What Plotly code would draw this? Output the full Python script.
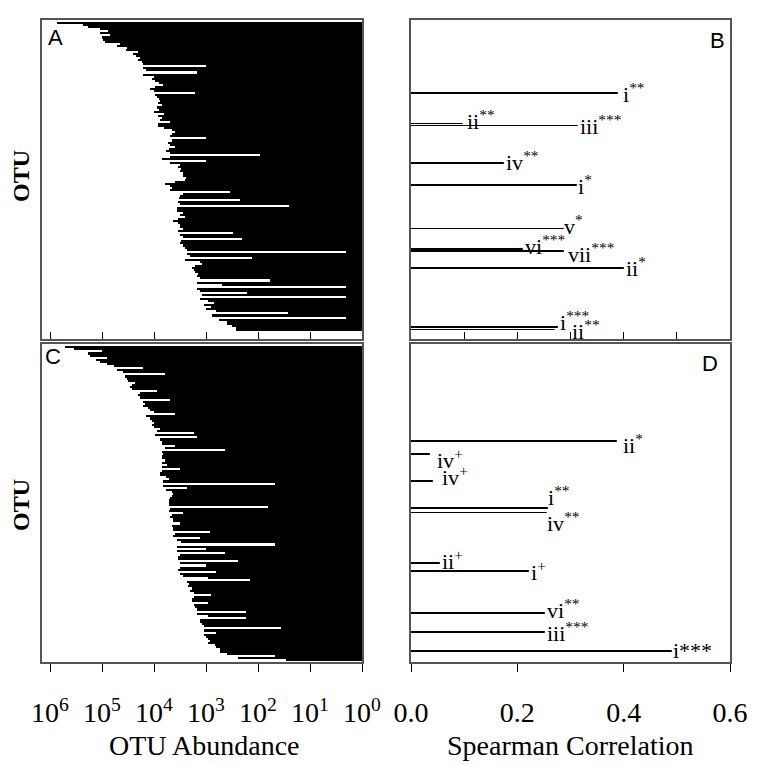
import plotly.graph_objects as go

# page body has an 8px margin, so the figure is laid out 8px smaller
OFF = 8
W, H = 763 - OFF, 765 - OFF

# OTU abundances (panel A), ordered top to bottom
abund_a = [
    7.4e5, 2.3e5, 1.9e5, 1.1e5, 7.6e4, 1.1e5, 7.1e4, 1.0e5, 9.5e4, 8.9e4,
    4.5e4, 5.2e4, 3.3e4, 3.5e4, 2.0e4, 2.5e4, 2.2e4, 1.9e4, 2.0e4, 1.7e4,
    1.6e4, 9.8e2, 1.6e4, 1.4e4, 1.5e3, 1.6e4, 1.0e4, 1.1e4, 9.5e3, 7.9e3,
    6.8e3, 9.5e3, 1.2e4, 1.0e4, 1.6e3, 9.5e3, 8.9e3, 7.9e3, 7.6e3, 8.3e3,
    7.1e3, 8.9e3, 7.9e3, 1.0e4, 6.3e3, 8.3e3, 7.1e3, 7.6e3, 5.0e3, 8.3e3,
    8.3e3, 6.3e3, 4.5e3, 4.0e3, 4.5e3, 4.9e3, 9.8e2, 4.6e3, 5.4e3, 5.0e3,
    4.0e3, 5.2e3, 5.8e3, 5.0e3, 9.1e1, 4.9e3, 7.1e3, 9.8e2, 4.9e3, 3.2e3,
    3.5e3, 3.0e3, 3.2e3, 2.8e3, 2.8e3, 2.4e3, 2.5e3, 4.0e3, 6.2e3, 5.0e3,
    4.6e3, 4.9e3, 3.5e2, 2.8e3, 3.2e3, 3.3e3, 2.2e2, 3.4e3, 3.2e3, 2.4e1,
    3.6e3, 3.6e3, 2.8e3, 3.2e3, 2.5e3, 3.5e3, 4.3e3, 3.5e3, 3.2e3, 3.2e3,
    2.8e3, 3.4e3, 3.0e2, 3.2e3, 2.8e3, 2.0e2, 3.0e3, 3.2e3, 2.8e3, 2.5e3,
    2.3e3, 1.0e0, 2.3e3, 2.0e3, 1.3e2, 2.5e3, 1.3e3, 1.2e3, 1.6e3, 1.9e3,
    1.7e3, 1.6e3, 1.4e3, 1.5e3, 1.3e3, 5.9e1, 1.5e3, 5.0e2, 1.0e0, 1.5e3,
    1.3e3, 1.6e2, 1.2e3, 1.0e0, 1.3e3, 9.1e2, 7.1e2, 1.1e3, 7.9e2, 1.0e3,
    6.3e2, 2.5e1, 7.8e2, 1.0e0, 5.6e2, 4.0e2, 4.0e2, 3.2e2, 2.6e2, 2.6e2,
]

# OTU abundances (panel C), ordered top to bottom
abund_c = [
    5.1e5, 3.5e5, 1.0e5, 1.9e5, 1.7e5, 8.1e4, 1.3e5, 1.1e5, 8.1e4, 6.0e4,
    1.6e4, 5.2e4, 4.0e4, 6.2e3, 3.6e4, 3.3e4, 3.1e4, 2.3e4, 2.7e4, 2.9e4,
    2.7e4, 8.9e3, 1.9e4, 2.0e4, 1.9e4, 4.9e3, 1.6e4, 1.5e4, 1.6e4, 1.3e4,
    1.2e4, 1.0e4, 4.0e3, 1.4e4, 1.2e4, 1.1e4, 1.0e4, 1.1e4, 1.0e4, 7.6e3,
    8.9e3, 1.7e3, 9.5e3, 1.5e3, 7.6e3, 7.1e3, 7.1e3, 4.0e3, 6.2e3, 4.3e2,
    7.1e3, 6.6e3, 7.1e3, 7.1e3, 6.2e3, 7.1e3, 5.6e3, 7.1e3, 3.2e3, 7.1e3,
    7.6e3, 7.6e3, 5.8e3, 5.2e3, 6.6e3, 4.7e1, 6.6e3, 2.3e3, 5.8e3, 4.6e3,
    4.3e3, 4.6e3, 5.0e3, 5.2e3, 5.2e3, 5.2e3, 6.3e1, 4.9e3, 5.2e3, 2.8e3,
    4.6e3, 4.9e3, 4.3e3, 4.3e3, 3.2e3, 4.6e3, 4.3e3, 4.3e3, 8.3e2, 4.0e3,
    4.3e3, 1.3e3, 3.6e3, 3.0e3, 4.7e1, 3.6e3, 1.0e3, 3.6e3, 4.3e2, 3.2e3,
    3.4e3, 3.4e3, 2.4e2, 3.2e3, 1.0e3, 3.2e3, 3.4e3, 6.3e2, 3.2e3, 2.8e3,
    9.1e2, 1.4e2, 2.3e3, 2.1e3, 2.2e3, 1.9e3, 2.0e3, 1.7e3, 7.9e2, 1.7e3,
    1.9e3, 1.9e3, 9.1e2, 1.7e3, 1.6e3, 1.5e3, 1.7e2, 1.5e3, 9.1e2, 1.7e2,
    1.3e3, 1.3e3, 1.2e3, 1.1e3, 3.5e1, 1.1e3, 6.3e2, 1.1e3, 1.0e3, 9.1e2,
    8.5e2, 9.1e2, 6.8e2, 6.3e2, 5.4e2, 5.4e2, 4.0e2, 4.7e1, 2.4e2, 2.8e1,
]

# Spearman correlations (panel B): OTU row, rho, group, significance
b_otu = [34, 49, 50, 68, 79, 100, 110, 111, 119, 148, 149]
b_rho = [0.39, 0.098, 0.315, 0.174, 0.312, 0.287, 0.211, 0.287, 0.40, 0.277, 0.271]
b_group = ["i", "ii", "iii", "iv", "i", "v", "vi", "vii", "ii", "i", "ii"]
b_sig = ["**", "**", "***", "**", "*", "*", "***", "***", "*", "***", "**"]

# Spearman correlations (panel D)
d_otu = [45, 51, 64, 77, 79, 103, 107, 127, 136, 145]
d_rho = [0.387, 0.036, 0.042, 0.258, 0.255, 0.055, 0.221, 0.252, 0.252, 0.49]
d_group = ["ii", "iv", "iv", "i", "iv", "ii", "i", "vi", "iii", "i"]
d_sig = ["*", "+", "+", "**", "**", "+", "+", "**", "***", "***"]

abund_ticks = [1e6, 1e5, 1e4, 1e3, 1e2, 1e1, 1e0]
abund_ticktext = ["10<sup>6</sup>", "10<sup>5</sup>", "10<sup>4</sup>", "10<sup>3</sup>",
                  "10<sup>2</sup>", "10<sup>1</sup>", "10<sup>0</sup>"]

# label offsets (px): dx, dy(up)
b_shift = [(4, 0), (3, 4), (1, 1), (1, 2), (0, 1), (-1, 4), (1, 5), (3, -1), (1, 1), (1, 7), (16, 0)]
d_shift = [(5, -2), (6, -5), (8, 5), (-1, 13), (-1, -9), (1, 3), (1, 1), (1, 5), (1, 1), (0, 1)]
d_sup = [True] * 9 + [False]

SERIF = "Liberation Serif"
SANS = "Liberation Sans"
FRAME = "#555555"


def px(x):
    return (x - OFF) / W


def py(y):
    return 1 - (y - OFF) / H


fig = go.Figure()

otu_bar = dict(color="black", line=dict(width=0))
rho_bar = dict(color="black", line=dict(width=1, color="black"))

fig.add_trace(go.Bar(x=abund_a, y=list(range(len(abund_a))), base=1, orientation="h",
                     marker=otu_bar, width=1.0, xaxis="x", yaxis="y"))
fig.add_trace(go.Bar(x=b_rho, y=b_otu, orientation="h",
                     marker=rho_bar, width=0.4, xaxis="x2", yaxis="y2"))
fig.add_trace(go.Bar(x=abund_c, y=list(range(len(abund_c))), base=1, orientation="h",
                     marker=otu_bar, width=1.0, xaxis="x3", yaxis="y3"))
fig.add_trace(go.Bar(x=d_rho, y=d_otu, orientation="h",
                     marker=rho_bar, width=0.4, xaxis="x4", yaxis="y4"))

left = [px(42), px(362)]
right = [px(411), px(730)]
top = [py(339), py(20)]
bottom = [py(662), py(344)]

frame = dict(showline=True, mirror=True, linecolor=FRAME, linewidth=1.5,
             showgrid=False, zeroline=False, automargin=False)
tickfont = dict(family=SERIF, size=28, color="black")

fig.update_layout(
    width=W, height=H,
    margin=dict(l=0, r=0, t=0, b=0, autoexpand=False),
    paper_bgcolor="white", plot_bgcolor="white",
    showlegend=False, bargap=0,
    xaxis=dict(domain=left, anchor="y", type="log", range=[6.154, 0],
               tickvals=abund_ticks, ticks="inside", ticklen=7, tickcolor="black",
               showticklabels=False, **frame),
    yaxis=dict(domain=top, anchor="x", range=[153.4, -1.5], showticklabels=False, **frame),
    xaxis2=dict(domain=right, anchor="y2", range=[0, 0.6], dtick=0.1,
                ticks="inside", ticklen=7, tickcolor="black", showticklabels=False, **frame),
    yaxis2=dict(domain=top, anchor="x2", range=[153.4, -1.5], showticklabels=False, **frame),
    xaxis3=dict(domain=left, anchor="y3", type="log", range=[6.154, 0],
                tickvals=abund_ticks, ticktext=abund_ticktext, ticks="outside",
                ticklen=8, tickcolor="black", tickfont=tickfont, ticklabelstandoff=17, **frame),
    yaxis3=dict(domain=bottom, anchor="x3", range=[150, -1.5], showticklabels=False, **frame),
    xaxis4=dict(domain=right, anchor="y4", range=[0, 0.6], tickvals=[0, 0.2, 0.4, 0.6],
                tickformat=".1f", ticks="outside", ticklen=8, tickcolor="black",
                tickfont=tickfont, ticklabelstandoff=17, **frame),
    yaxis4=dict(domain=bottom, anchor="x4", range=[150, -1.5], showticklabels=False, **frame),
)

anns = []


def label(text, x, y, xref, yref, dx, dy):
    anns.append(dict(text=text, x=x, y=y, xref=xref, yref=yref, xanchor="left",
                     yanchor="middle", xshift=dx, yshift=dy, showarrow=False,
                     borderpad=0, font=dict(family=SERIF, size=22, color="black")))


for i in range(len(b_otu)):
    t = b_group[i] + "<sup>" + b_sig[i] + "</sup>"
    label(t, b_rho[i], b_otu[i], "x2", "y2", *b_shift[i])

for i in range(len(d_otu)):
    if d_sup[i]:
        t = d_group[i] + "<sup>" + d_sig[i] + "</sup>"
    else:
        t = d_group[i] + d_sig[i]
    label(t, d_rho[i], d_otu[i], "x4", "y4", *d_shift[i])

# panel letters
for txt, lx, ly in [("A", 55, 37), ("B", 717, 40), ("C", 53, 356), ("D", 710, 363)]:
    anns.append(dict(text=txt, x=px(lx), y=py(ly), xref="paper", yref="paper",
                     showarrow=False, xanchor="center", yanchor="middle",
                     font=dict(family=SANS, size=22, color="black")))

# axis titles
anns.append(dict(text="OTU Abundance", x=px(205), y=py(745), xref="paper", yref="paper",
                 showarrow=False, xanchor="center", yanchor="middle",
                 font=dict(family=SERIF, size=28, color="black")))
anns.append(dict(text="Spearman Correlation", x=px(570), y=py(745), xref="paper", yref="paper",
                 showarrow=False, xanchor="center", yanchor="middle",
                 font=dict(family=SERIF, size=28, color="black")))
for cy in [176, 505]:
    anns.append(dict(text="<b>OTU</b>", x=px(21), y=py(cy), xref="paper", yref="paper",
                     showarrow=False, xanchor="center", yanchor="middle", textangle=-90,
                     font=dict(family=SERIF, size=24, color="black")))

fig.update_layout(annotations=anns)

fig.write_html("out.html")
